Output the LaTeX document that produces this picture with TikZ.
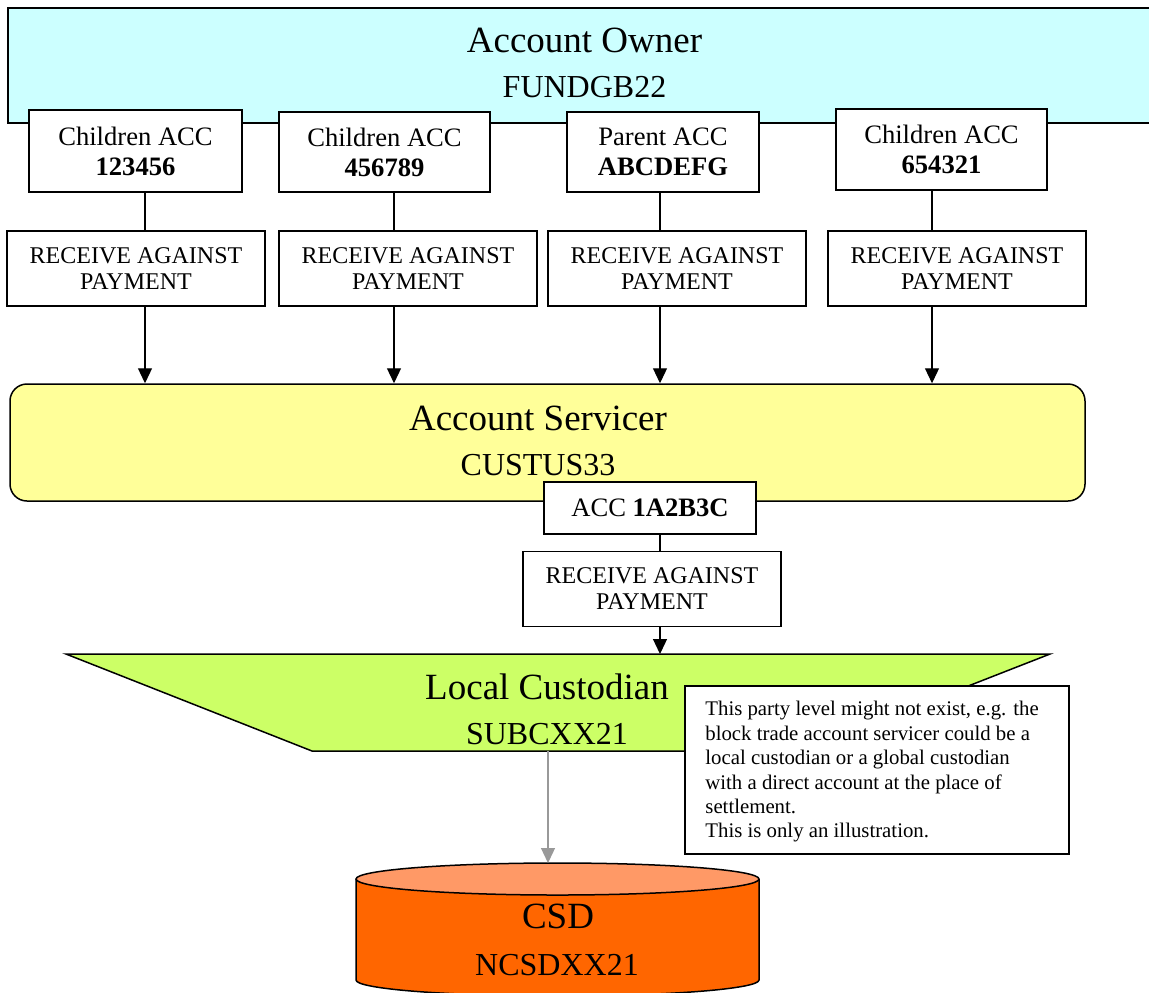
\documentclass[tikz,border=0pt]{standalone}
\usepackage{fontspec}
\setmainfont{Liberation Serif}
\usetikzlibrary{arrows.meta}
\definecolor{ownerfill}{HTML}{CCFFFF}
\definecolor{servfill}{HTML}{FFFF99}
\definecolor{lcfill}{HTML}{CCFF66}
\definecolor{csdbody}{HTML}{FF6600}
\definecolor{csdend}{HTML}{FF9966}
\definecolor{flowgray}{HTML}{999999}
\begin{document}
\begin{tikzpicture}[x=0.5pt,y=-0.5pt,
  box/.style={draw,line width=0.75pt,fill=white,inner sep=0pt,align=center},
  accbox/.style={box,font=\fontsize{13.3}{15}\selectfont},
  rapbox/.style={box,minimum width=129pt,minimum height=37.5pt,font=\fontsize{12}{13}\selectfont},
  partyname/.style={anchor=base,inner sep=0pt,font=\fontsize{18.5}{22}\selectfont},
  partycode/.style={anchor=base,inner sep=0pt,font=\fontsize{16}{19}\selectfont},
  link/.style={line width=0.6pt},
  flow/.style={line width=0.6pt,-{Triangle[width=7pt,length=7.5pt]}},
]
\useasboundingbox (0,0) rectangle (1149,992);

% Account owner band
\node[draw,line width=0.75pt,fill=ownerfill,inner sep=0pt,anchor=north west,
      minimum width=576.5pt,minimum height=57.5pt] (owner) at (7,7) {};
\node[partyname] (ownername) at (584.5,52) {Account Owner};
\node[partycode] (ownercode) at (584.5,97) {FUNDGB22};

% Safekeeping accounts
\node[accbox,minimum width=106.5pt,minimum height=41pt] (c1) at (135.5,151) {Children ACC\\\textbf{123456}};
\node[accbox,minimum width=105.5pt,minimum height=40pt] (c2) at (384.5,152) {Children ACC\\\textbf{456789}};
\node[accbox,minimum width=96pt,minimum height=40pt] (c3) at (663,152) {Parent ACC\\\textbf{ABCDEFG}};
\node[accbox,minimum width=105.5pt,minimum height=40.5pt] (c4) at (941.5,149.5) {Children ACC\\\textbf{654321}};

% Instructions
\node[rapbox] (r1) at (136,268.5) {RECEIVE AGAINST\\PAYMENT};
\node[rapbox] (r2) at (408,268.5) {RECEIVE AGAINST\\PAYMENT};
\node[rapbox] (r3) at (677,268.5) {RECEIVE AGAINST\\PAYMENT};
\node[rapbox] (r4) at (957,268.5) {RECEIVE AGAINST\\PAYMENT};

% Account servicer
\node[draw,line width=0.75pt,fill=servfill,rounded corners=8.5pt,inner sep=0pt,
      minimum width=537.5pt,minimum height=58.5pt] (serv) at (547.5,442.5) {};
\node[partyname] (servname) at (538,430) {Account Servicer};
\node[partycode] (servcode) at (538,475) {CUSTUS33};

% Columns of the flows
\coordinate (x1) at (145,0);
\coordinate (x2) at (394,0);
\coordinate (x3) at (660,0);
\coordinate (x4) at (932,0);
\foreach \i in {1,2,3,4}{
  \draw[link] (c\i.south -| x\i) -- (r\i.north -| x\i);
  \draw[flow] (r\i.south -| x\i) -- (serv.north -| x\i);
}

% Servicer account and its instruction
\node[accbox,minimum width=106pt,minimum height=26pt] (acc) at (650,508) {ACC \textbf{1A2B3C}};
\node[rapbox] (r5) at (652,589) {RECEIVE AGAINST\\PAYMENT};

% Local custodian
\draw[line width=0.75pt,fill=lcfill] (66,654) -- (1050,654) -- (802,751) -- (312,751) -- cycle;
\coordinate (lctop) at (660,654);
\coordinate (lcbot) at (548,751);
\node[partyname] (lcname) at (547,699) {Local Custodian};
\node[partycode] (lccode) at (547,744) {SUBCXX21};

\draw[link] (acc.south -| x3) -- (r5.north -| x3);
\draw[flow] (r5.south -| x3) -- (lctop);

% Remark
\node[draw,line width=0.75pt,fill=white,inner sep=0pt,anchor=north west,
      minimum width=192pt,minimum height=84pt] (note) at (684,685) {};
\node[anchor=north west,inner sep=0pt,align=left,font=\fontsize{10.4}{12.2}\selectfont]
  (notetext) at (705,701) {This party level might not exist, e.g. the\\
  block trade account servicer could be a\\
  local custodian or a global custodian\\
  with a direct account at the place of\\
  settlement.\\
  This is only an illustration.};

% CSD
\fill[csdbody] (356,879) -- (356,980) arc[start angle=180,end angle=0,x radius=201.5,y radius=16] -- (759,879) -- cycle;
\draw[line width=0.75pt] (356,879) -- (356,980) arc[start angle=180,end angle=0,x radius=201.5,y radius=16] -- (759,879);
\draw[line width=0.75pt,fill=csdend] (557.5,879) ellipse[x radius=201.5,y radius=16];
\coordinate (csdtop) at (548,863);
\node[partyname] (csdname) at (558,928) {CSD};
\node[partycode] (csdcode) at (557,975) {NCSDXX21};

\draw[flow,draw=flowgray,fill=flowgray] (lcbot) -- (csdtop);
\end{tikzpicture}
\end{document}
